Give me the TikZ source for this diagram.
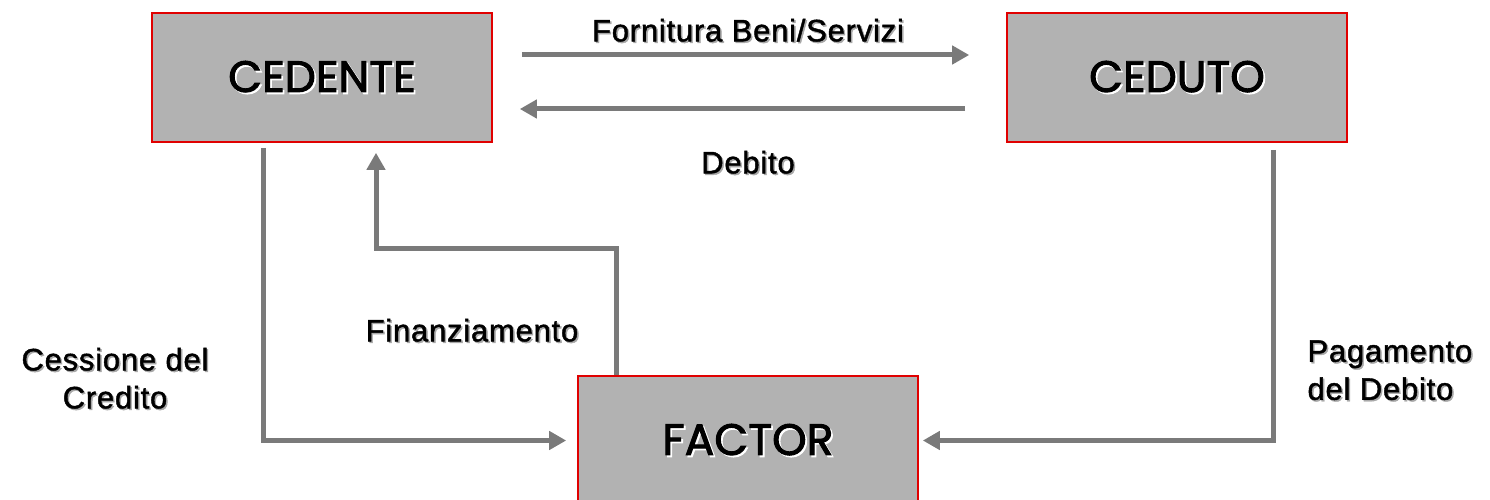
\documentclass[tikz,border=0pt]{standalone}
\usepackage{fontspec}
\setmainfont{Liberation Sans}[LetterSpace=2.5,FakeBold=1.4]
\newfontfamily\boxfont{Poppins}[FakeBold=2.2]
\usetikzlibrary{arrows.meta}
\definecolor{boxgray}{HTML}{B2B2B2}
\definecolor{boxred}{HTML}{E00000}
\definecolor{linegray}{HTML}{7A7A7A}
\definecolor{shadegray}{HTML}{A8A8A8}
% text with a small drop shadow
\newcommand{\boxtxt}[1]{\rlap{\hspace{1.8pt}\raisebox{-1.8pt}{\color{white}#1}}#1}
\newcommand{\lbltxt}[1]{\rlap{\hspace{1.5pt}\raisebox{-1.5pt}{\color{shadegray}#1}}#1}

\begin{document}
\begin{tikzpicture}[x=1pt,y=1pt,
    party/.style={draw=boxred,line width=1.6pt,fill=boxgray,minimum width=340pt,minimum height=129pt,
      inner sep=0pt,font=\boxfont\fontsize{44}{44}\selectfont},
    flow/.style={draw=linegray,line width=5pt,-{Triangle[length=17pt,width=18pt]}},
    lbl/.style={font=\fontsize{31}{38}\selectfont,align=center}]
  \useasboundingbox (0,0) rectangle (1490,499);

  \node[party] (cedente) at (322,421.5) {\boxtxt{CEDENTE}};
  \node[party] (ceduto) at (1177,421.5) {\boxtxt{CEDUTO}};
  \node[party] (factor) at (748,58.5) {\boxtxt{FACTOR}};

  \draw[flow,shorten <=29pt,shorten >=37pt] ([yshift=22.5pt]cedente.east) -- ([yshift=22.5pt]ceduto.west);
  \draw[flow,shorten <=41pt,shorten >=27pt] ([yshift=-31.5pt]ceduto.west) -- ([yshift=-31.5pt]cedente.east);
  \draw[flow,shorten <=5pt,shorten >=11pt] ([xshift=-59pt]cedente.south) |- (factor.west);
  \draw[flow,shorten >=10pt] ([xshift=-132pt]factor.north) -- ++(0,127) -| ([xshift=54pt]cedente.south);
  \draw[flow,shorten <=7pt,shorten >=4pt] ([xshift=96pt]ceduto.south) |- (factor.east);

  \node[lbl] (fornitura) at (748,468) {\lbltxt{Fornitura Beni/Servizi}};
  \node[lbl] (debito) at (748,336) {\lbltxt{Debito}};
  \node[lbl] (finanz) at (472,168) {\lbltxt{Finanziamento}};
  \node[lbl] (cessione) at (115,120) {\lbltxt{Cessione del}\\\lbltxt{Credito}};
  \node[lbl,anchor=west,align=left] (pagamento) at (1304,128) {\lbltxt{Pagamento}\\\lbltxt{del Debito}};
\end{tikzpicture}
\end{document}
